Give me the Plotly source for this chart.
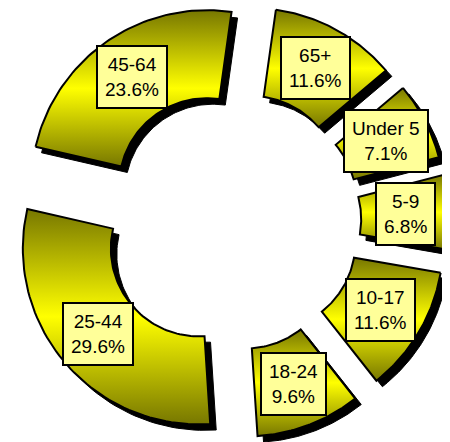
import numpy as np
import plotly.graph_objects as go

# Datos: grupos de edad y porcentajes
grupos = ["65+", "Under 5", "5-9", "10-17", "18-24", "25-44", "45-64"]
porcentajes = [11.6, 7.1, 6.8, 11.6, 9.6, 29.6, 23.6]

# Geometria del donut (unidades: radio exterior = 1)
# La pagina tiene un margen de 8 px en el body, la figura se reduce para caber
MARGEN_BODY = 8
W, H = 450 - MARGEN_BODY, 442 - MARGEN_BODY
ESCALA = 176.0                                   # px por unidad
CX, CY = 231.0 - MARGEN_BODY, 221.0 - MARGEN_BODY  # centro en px de la figura
HUECO = 0.5
PULL = 0.24
ROTACION = 8.0          # grados, sentido horario desde las 12
SOMBRA = 6.0 / ESCALA

fig = go.Figure()

total = sum(porcentajes)
inicio = ROTACION
sectores = []
for g, p in zip(grupos, porcentajes):
    barrido = 360.0 * p / total
    a0, a1 = inicio, inicio + barrido
    medio = np.radians((a0 + a1) / 2)
    dx, dy = PULL * np.sin(medio), PULL * np.cos(medio)
    t = np.radians(np.linspace(a0, a1, 60))
    xs = np.concatenate([np.sin(t), HUECO * np.sin(t[::-1])]) + dx
    ys = np.concatenate([np.cos(t), HUECO * np.cos(t[::-1])]) + dy
    xs = np.append(xs, xs[0])
    ys = np.append(ys, ys[0])
    rm = (1 + HUECO) / 2
    sectores.append((g, p, xs, ys, dx + rm * np.sin(medio), dy + rm * np.cos(medio)))
    inicio = a1

# Sombras negras desplazadas
for g, p, xs, ys, lx, ly in sectores:
    fig.add_trace(go.Scatter(
        x=xs + SOMBRA, y=ys - SOMBRA,
        mode="lines", fill="toself",
        fillcolor="black", line=dict(color="black", width=1),
        hoverinfo="skip", showlegend=False
    ))

# Sectores con degradado vertical
for g, p, xs, ys, lx, ly in sectores:
    fig.add_trace(go.Scatter(
        x=xs, y=ys,
        mode="lines", fill="toself",
        fillgradient=dict(
            type="vertical",
            colorscale=[[0, "#777700"], [0.5, "#FFFF00"], [1, "#777700"]]
        ),
        line=dict(color="black", width=2),
        name=g,
        hovertemplate=f"{g}: {p}%<extra></extra>",
        showlegend=False
    ))
    fig.add_annotation(
        x=lx, y=ly,
        text=f"{g}<br>{p}%",
        showarrow=False,
        bgcolor="#FFFF99",
        bordercolor="black",
        borderwidth=2,
        borderpad=7,
        font=dict(family="Liberation Sans, Arial, sans-serif", size=19, color="black")
    )

fig.update_layout(
    width=W, height=H,
    margin=dict(l=0, r=0, t=0, b=0),
    paper_bgcolor="white",
    plot_bgcolor="white",
    showlegend=False
)
fig.update_xaxes(range=[-CX / ESCALA, (W - CX) / ESCALA], visible=False, fixedrange=True)
fig.update_yaxes(range=[-(H - CY) / ESCALA, CY / ESCALA], visible=False, fixedrange=True)

fig.write_html("out.html")
